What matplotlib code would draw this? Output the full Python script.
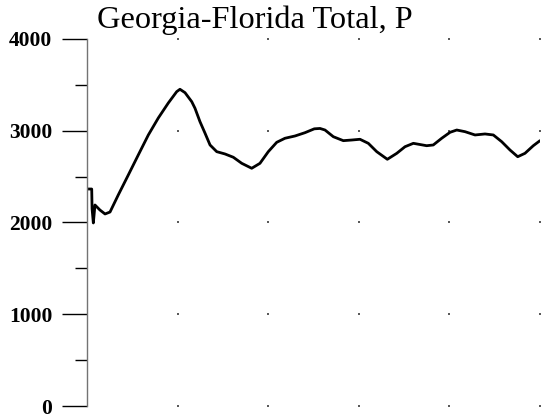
import matplotlib
matplotlib.use("Agg")
import matplotlib.pyplot as plt
import numpy as np

title = "Georgia-Florida Total, P"
yticks = [0, 1000, 2000, 3000, 4000]
yticklabels = ["0", "1000", "2000", "3000", "4000"]
minor_yticks = [500, 1500, 2500, 3500]
grid_x = [1, 2, 3, 4, 5]

t = [0.01, 0.052, 0.056, 0.070, 0.088, 0.143, 0.199, 0.254, 0.345, 0.456, 0.566,
     0.677, 0.787, 0.897, 0.990, 1.026, 1.082, 1.156, 1.192, 1.247, 1.302, 1.358,
     1.432, 1.523, 1.615, 1.708, 1.818, 1.909, 2.001, 2.094, 2.185, 2.296, 2.406,
     2.509, 2.572, 2.627, 2.719, 2.829, 2.922, 3.013, 3.105, 3.198, 3.315, 3.419,
     3.510, 3.602, 3.749, 3.822, 3.915, 4.007, 4.081, 4.172, 4.283, 4.393, 4.485,
     4.577, 4.669, 4.754, 4.834, 4.926, 5.000]
p = [2365, 2365, 2150, 1995, 2191, 2136, 2093, 2114, 2300, 2518, 2736,
     2954, 3139, 3302, 3426, 3452, 3415, 3317, 3245, 3099, 2975, 2845,
     2772, 2747, 2711, 2645, 2591, 2645, 2772, 2874, 2918, 2943, 2979,
     3021, 3025, 3008, 2935, 2892, 2899, 2907, 2863, 2772, 2689, 2754,
     2826, 2863, 2837, 2845, 2918, 2983, 3008, 2990, 2954, 2965, 2954,
     2881, 2790, 2717, 2754, 2837, 2892]

W, H = 547, 419
fig = plt.figure(figsize=(W / 100, H / 100), dpi=100)
ax = fig.add_axes([87 / W, (H - 406) / H, (540 - 87) / W, (406 - 39) / H])
ax.set_xlim(0, 5)
ax.set_ylim(0, 4000)

ax.plot(t, p, color="black", lw=2.0, solid_joinstyle="round", solid_capstyle="round")

gx, gy = np.meshgrid(grid_x, yticks)
ax.scatter(gx.ravel(), gy.ravel(), s=1.2, color="0.35", marker="s", linewidths=0, clip_on=False)

for s in ["top", "right", "bottom"]:
    ax.spines[s].set_visible(False)
ax.spines["left"].set_color("0.45")
ax.spines["left"].set_linewidth(1.0)

ax.set_xticks([])
ax.set_yticks(yticks)
ax.set_yticklabels(yticklabels, fontfamily="Liberation Serif", fontweight="bold", fontsize=15.5)
ax.set_yticks(minor_yticks, minor=True)
ax.tick_params(axis="y", which="major", length=18, width=1.0, color="black", pad=7)
ax.tick_params(axis="y", which="minor", length=9, width=1.0, color="black")

fig.text(97 / W, (H - 28) / H, title, fontfamily="Liberation Serif", fontsize=23.3,
         ha="left", va="baseline")

fig.savefig("out.png", dpi=100)
